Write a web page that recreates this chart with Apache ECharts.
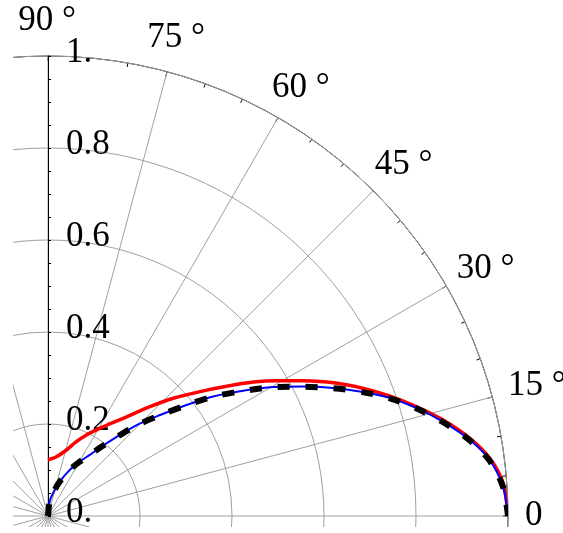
<!DOCTYPE html>
<html><head><meta charset="utf-8">
<script src="https://cdn.jsdelivr.net/npm/echarts@6/dist/echarts.min.js"></script>
<style>html,body{margin:0;padding:0;background:#fff}#c{width:563px;height:533px}</style>
</head><body><div id="c"></div>
<script>
// angle in degrees, radius values
const redTheta = [90, 81.9, 74.4, 69.1, 64.6, 59.5, 57.1, 54.2, 51.6, 47.0, 43.2, 39.3, 36.0, 33.1, 30.6, 27.9, 25.0, 22.0, 19.3, 16.5, 13.65, 10.4, 7.4, 4.1, 0];
const redR     = [0.122, 0.130, 0.149, 0.173, 0.195, 0.221, 0.235, 0.254, 0.275, 0.325, 0.374, 0.427, 0.480, 0.533, 0.578, 0.628, 0.685, 0.740, 0.788, 0.836, 0.884, 0.933, 0.969, 0.992, 1.0];

const blueTheta = [90, 83.2, 75.5, 71.2, 64.7, 59.7, 55.6, 52.4, 49.4, 45.7, 42.0, 38.7, 35.9, 32.7, 29.8, 26.9, 24.2, 21.5, 19.0, 16.3, 13.4, 10.2, 7.2, 3.7, 0];
const blueR     = [0, 0.033, 0.059, 0.079, 0.111, 0.137, 0.161, 0.190, 0.223, 0.276, 0.328, 0.386, 0.443, 0.504, 0.564, 0.622, 0.679, 0.736, 0.787, 0.835, 0.883, 0.932, 0.968, 0.991, 1.0];

const blackTheta = [90, 83.2, 75.5, 71.2, 64.7, 59.7, 55.6, 52.4, 49.4, 45.7, 42.0, 38.7, 35.9, 32.7, 29.8, 26.9, 24.2, 21.5, 19.0, 16.3, 13.4, 10.2, 7.2, 3.7, 0];
const blackR     = [0, 0.033, 0.059, 0.079, 0.111, 0.137, 0.161, 0.190, 0.222, 0.275, 0.327, 0.385, 0.442, 0.503, 0.563, 0.621, 0.678, 0.735, 0.786, 0.834, 0.882, 0.931, 0.967, 0.991, 1.0];

const angleLabels = {0: '0', 15: '15 °', 30: '30 °', 45: '45 °', 60: '60 °', 75: '75 °', 90: '90 °'};
const radiusLabels = {0: '0.', 0.2: '0.2', 0.4: '0.4', 0.6: '0.6', 0.8: '0.8', 1: '1.'};

function pairs(r, t) { return r.map((v, i) => [v, t[i]]); }

const font = 'Liberation Serif';
const fs = 35;
// per-label nudges (padding) so each label sits where the reference puts it
const richPad = {
  a90: [0, 0, 6, -2], a75: [0, 0, 5, 12], a60: [0, 0, 2, -12], a45: [0, 0, 0, -7],
  a30: [0, 0, -6, 0], a15: [-16, 0, 0, 4], a0: [0, 0, 0, 5]
};
const rich = {};
Object.keys(richPad).forEach(k => {
  rich[k] = {padding: richPad[k], fontFamily: font, fontSize: fs, color: '#000'};
});

const chart = echarts.init(document.getElementById('c'), null, {renderer: 'canvas'});
chart.setOption({
  animation: false,
  backgroundColor: '#fff',
  polar: {center: [48, 516], radius: 460},
  angleAxis: {
    type: 'value', min: -270, max: 90, interval: 15,
    startAngle: 90, clockwise: false,
    axisLine: {show: true, lineStyle: {color: '#000', width: 1}},
    axisTick: {show: true, inside: true, length: 5, lineStyle: {color: '#000'}},
    minorTick: {show: true, splitNumber: 3, length: 4, lineStyle: {color: '#000'}},
    splitLine: {show: true, lineStyle: {color: '#a0a0a0', width: 1}},
    axisLabel: {
      show: true, margin: 12, color: '#000', fontFamily: font, fontSize: fs, rich: rich,
      formatter: function (v) {
        const n = ((Math.round(v) % 360) + 360) % 360;
        return angleLabels[n] !== undefined ? '{a' + n + '|' + angleLabels[n] + '}' : '';
      }
    }
  },
  radiusAxis: {
    type: 'value', min: 0, max: 1, interval: 0.2,
    axisLine: {show: true, lineStyle: {color: '#000', width: 1}},
    axisTick: {show: true, length: -3, lineStyle: {color: '#000'}},
    minorTick: {show: true, splitNumber: 4, length: -3, lineStyle: {color: '#000'}},
    splitLine: {show: true, lineStyle: {color: '#a0a0a0', width: 1}},
    axisLabel: {
      show: true, margin: -68, color: '#000', fontFamily: font, fontSize: fs,
      rich: {r: {width: 50, align: 'left', padding: [-6, 0, 0, 0], fontFamily: font, fontSize: fs, color: '#000'}},
      formatter: function (v) {
        const k = Math.round(v * 10) / 10;
        return radiusLabels[k] !== undefined ? '{r|' + radiusLabels[k] + '}' : '';
      }
    },
    z: 3
  },
  graphic: [
    {type: 'rect', z: 100, shape: {x: 0, y: 0, width: 13, height: 533}, style: {fill: '#fff'}},
    {type: 'rect', z: 100, shape: {x: 0, y: 527, width: 563, height: 6}, style: {fill: '#fff'}}
  ],
  series: [
    {type: 'line', coordinateSystem: 'polar', data: pairs(redR, redTheta), symbol: 'none', smooth: 0.3,
     lineStyle: {color: '#ff0000', width: 3.5}, z: 3},
    {type: 'line', coordinateSystem: 'polar', data: pairs(blueR, blueTheta), symbol: 'none', smooth: 0.3,
     lineStyle: {color: '#0000ff', width: 2}, z: 4},
    {type: 'line', coordinateSystem: 'polar', data: pairs(blackR, blackTheta), symbol: 'none', smooth: 0.3,
     lineStyle: {color: '#000', width: 6, type: [12, 16], cap: 'butt'}, z: 5}
  ]
});
</script></body></html>
